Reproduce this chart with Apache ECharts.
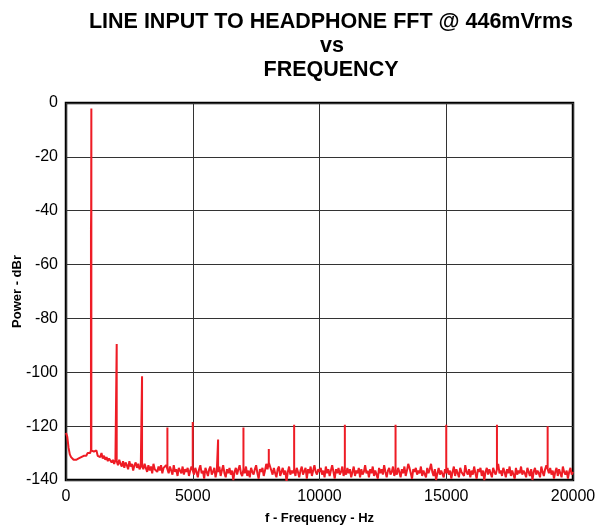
<!DOCTYPE html>
<html>
<head>
<meta charset="utf-8">
<script src="https://cdn.jsdelivr.net/npm/echarts@6/dist/echarts.min.js"></script>
<style>
html,body{margin:0;padding:0;background:#fff;}
#chart{width:608px;height:529px;}
</style>
</head>
<body>
<div id="chart"></div>
<script>
// Noise floor sampled every 50 Hz from 0 to 20000 Hz (one row = 1000 Hz)
const freqStart = 0;
const freqStep = 50;
const noiseFloor = [
  -122.5, -124, -128, -130.5, -131.5, -132, -132.5, -133, -132.5, -133, -132, -132.5, -131.5, -132, -131, -130.5, -131, -130, -129.5, -130,
  -129, -128.5, -129.5, -130, -129, -131, -130.5, -131.5, -130, -132, -131, -132.5, -131.5, -133, -132, -131.5, -133.5, -132.5, -134, -132.5,
  -133, -134.5, -132.5, -134, -135, -133, -135.5, -133.5, -134.5, -136, -133, -135, -134, -136.5, -134.5, -133.5, -135.5, -134, -136, -135,
  -134.5, -136, -134, -135.5, -137, -134.5, -136.5, -135, -137.5, -134, -136, -135.5, -137, -135, -136.5, -134.5, -137.5, -135.5, -136, -134.5,
  -136, -137.5, -135, -136.5, -138, -134.5, -137, -136, -138.5, -135.5, -136.5, -137.5, -135, -138, -136, -137, -135.5, -138.5, -136.5, -135,
  -136.5, -138, -135.5, -137, -139, -136, -134.5, -137.5, -136.5, -139.5, -135.5, -137, -138.5, -136, -135, -138, -137, -135.5, -139, -136.5,
  -137, -135, -138.5, -136.5, -134.5, -137.5, -139, -136, -137.5, -135.5, -138, -136.5, -140, -137, -135.5, -138, -136, -134.5, -137.5, -138.5,
  -136, -137.5, -135, -138.5, -136.5, -139, -135.5, -137, -138, -136, -134.5, -137.5, -139.5, -136, -137, -135.5, -138.5, -136.5, -134, -136,
  -133.5, -134, -136.5, -138, -135.5, -137.5, -139, -136, -135, -138.5, -137, -135.5, -138, -136.5, -140.5, -137, -135, -138, -136.5, -137.5,
  -136, -138.5, -135.5, -137, -139, -136.5, -135, -138, -137.5, -135.5, -139.5, -136, -137.5, -135, -138.5, -136.5, -134.5, -137, -138, -136,
  -137, -135.5, -138, -136.5, -139, -135, -137.5, -136, -138.5, -136.5, -134.5, -137, -139.5, -136, -137.5, -135.5, -138, -137, -135, -138.5,
  -136.5, -138, -135.5, -137.5, -136, -139, -137, -135, -138.5, -136.5, -137.5, -135.5, -139, -136, -138, -137, -134.5, -137.5, -136.5, -139,
  -136, -137.5, -135, -138.5, -136.5, -137, -139.5, -135.5, -137.5, -136, -138, -134.5, -137, -139, -136.5, -135.5, -138, -137, -135, -138.5,
  -136.5, -138, -135.5, -137, -139, -136, -137.5, -135, -138.5, -136.5, -134, -135.5, -137.5, -139.5, -136, -137, -135.5, -138, -136.5, -137.5,
  -135, -138.5, -136.5, -137, -139, -135.5, -137.5, -136, -134, -137, -138.5, -136, -140, -137.5, -135.5, -138, -136.5, -137, -139, -136,
  -137.5, -135.5, -138, -136.5, -139.5, -137, -135, -138.5, -136, -137.5, -139, -135.5, -137, -136.5, -138.5, -134.5, -137, -138, -136, -139,
  -136.5, -138, -135, -137.5, -139.5, -136, -137, -135.5, -138.5, -136.5, -140, -137, -135.5, -138, -136, -137.5, -139, -135.5, -137, -138,
  -136, -134, -137.5, -136.5, -138.5, -135.5, -137, -139, -136, -137.5, -135, -138.5, -136.5, -137, -139.5, -135.5, -138, -136.5, -137.5, -135,
  -138, -136.5, -137.5, -139, -135.5, -137, -138.5, -136, -140, -137, -135.5, -138, -136.5, -137.5, -139, -135, -137, -138.5, -136, -134.5,
  -136, -137.5, -135.5, -138, -136.5, -139.5, -137, -135.5, -138.5, -136, -137.5, -139, -135, -137, -138, -136.5, -139.5, -137, -135.5, -138,
  -137
];
// Spectral lines (fundamental and harmonics)
const peakFreqs  = [1000, 2000, 3000, 4000, 5000, 6000, 7000, 8000, 9000, 11000, 13000, 15000, 17000, 19000];
const peakLevels = [-2, -89.5, -101.5, -120.5, -118.5, -125, -120.5, -128.5, -119.5, -119.5, -119.5, -119.5, -119.5, -120];
// Left shoulder of the fundamental
const shoulderFreqs  = [985, 993];
const shoulderLevels = [-47, -40];

const xTicks = {min: 0, max: 20000, interval: 5000};
const yTicks = {min: -140, max: 0, interval: 20};

const data = [];
for (let i = 0; i < noiseFloor.length; i++) {
  const f = freqStart + i * freqStep;
  const base = noiseFloor[i];
  const k = peakFreqs.indexOf(f);
  if (k < 0) { data.push([f, base]); continue; }
  if (f === 1000) {
    data.push([shoulderFreqs[0], base]);
    for (let j = 0; j < shoulderFreqs.length; j++) data.push([shoulderFreqs[j], shoulderLevels[j]]);
  } else {
    data.push([f, base]);
  }
  data.push([f, peakLevels[k]]);
  data.push([f, base]);
}

const chart = echarts.init(document.getElementById('chart'), null, {renderer: 'canvas'});
const FONT = '"Liberation Sans", Arial, sans-serif';
chart.setOption({
  animation: false,
  backgroundColor: '#fff',
  graphic: [
    {type: 'text', x: 331, y: 22.5, style: {text: 'LINE INPUT TO HEADPHONE FFT @ 446mVrms', font: 'bold 21.5px ' + FONT, fill: '#000', textAlign: 'center', textVerticalAlign: 'middle'}},
    {type: 'text', x: 332, y: 46.5, style: {text: 'vs', font: 'bold 21.5px ' + FONT, fill: '#000', textAlign: 'center', textVerticalAlign: 'middle'}},
    {type: 'text', x: 331, y: 70.5, style: {text: 'FREQUENCY', font: 'bold 21.5px ' + FONT, fill: '#000', textAlign: 'center', textVerticalAlign: 'middle'}}
  ],
  grid: {left: 66, right: 35, top: 103, bottom: 49, show: true, borderColor: '#000', borderWidth: 2.5,
         backgroundColor: 'transparent', containLabel: false, outerBoundsMode: 'none'},
  xAxis: {
    type: 'value', min: xTicks.min, max: xTicks.max, interval: xTicks.interval,
    name: 'f - Frequency - Hz', nameLocation: 'middle', nameGap: 32, nameMoveOverlap: false,
    nameTextStyle: {fontFamily: FONT, fontWeight: 'bold', fontSize: 13, color: '#000'},
    axisLine: {show: false}, axisTick: {show: false},
    axisLabel: {fontFamily: FONT, fontSize: 16, color: '#000', margin: 9, formatter: (v) => String(v)},
    splitLine: {show: true, lineStyle: {color: '#333', width: 1}}
  },
  yAxis: {
    type: 'value', min: yTicks.min, max: yTicks.max, interval: yTicks.interval,
    name: 'Power - dBr', nameLocation: 'middle', nameGap: 42, nameMoveOverlap: false,
    nameTextStyle: {fontFamily: FONT, fontWeight: 'bold', fontSize: 13, color: '#000'},
    axisLine: {show: false}, axisTick: {show: false},
    axisLabel: {fontFamily: FONT, fontSize: 16, color: '#000', margin: 8, formatter: (v) => String(v)},
    splitLine: {show: true, lineStyle: {color: '#333', width: 1}}
  },
  series: [{
    type: 'line', data: data, showSymbol: false, symbol: 'none', sampling: null,
    lineStyle: {color: '#ee1c25', width: 2}, z: 3
  }]
});
</script>
</body>
</html>
